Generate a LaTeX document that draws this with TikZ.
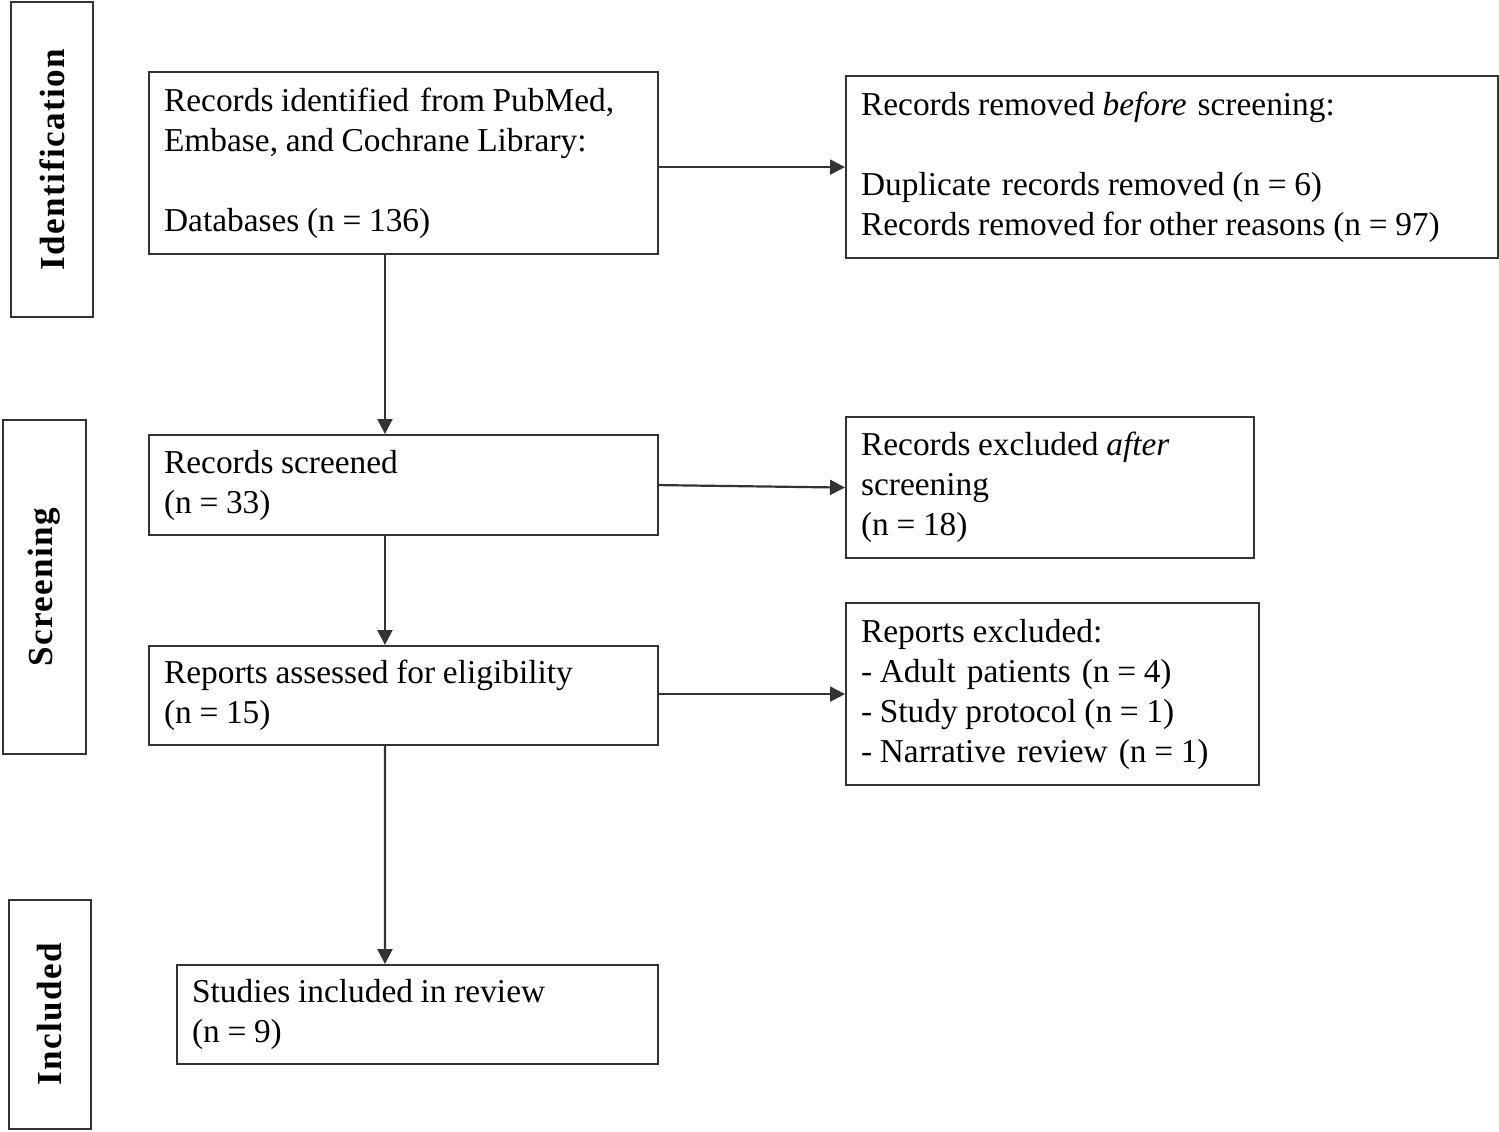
\documentclass[tikz,border=0pt]{standalone}
\usepackage{fontspec}
\setmainfont{Liberation Serif}
\usetikzlibrary{arrows.meta}
\newcommand\tightsp{\spaceskip=0.23em plus 0.02em minus 0.02em\relax}
\newcommand\dsp{\hspace{0.33em}}
\begin{document}
\begin{tikzpicture}[x=0.02cm,y=-0.02cm,
  box/.style={draw=black!80,line width=1.25pt,rectangle,anchor=north west,align=left,
    inner xsep=0.3cm,inner ysep=0pt,font=\fontsize{19}{22.8}\selectfont},
  side/.style={draw=black!80,line width=1.25pt,rectangle,inner sep=0pt,
    font=\fontsize{20}{24}\selectfont\bfseries\addfontfeatures{LetterSpace=4}},
  arr/.style={line width=1.25pt,draw=black!80,-{Triangle[length=0.3cm,width=0.3cm]}}]
\useasboundingbox (0,0) rectangle (1499,1132);
% side labels
\node[side,minimum width=6.3cm,minimum height=1.64cm,rotate=90] (sid) at (52,159.5) {Identification};
\node[side,minimum width=6.68cm,minimum height=1.66cm,rotate=90] (sscr) at (44.5,587) {Screening};
\node[side,minimum width=4.58cm,minimum height=1.64cm,rotate=90] (sinc) at (50,1014.5) {Included};
% boxes
\node[box,text width=9.58cm,minimum height=3.64cm] (b1) at (148,71)
  {\tightsp Records identified\dsp from PubMed,\\Embase, and Cochrane Library:\\[22.8pt]Databases (n = 136)};
\node[box,text width=12.44cm,minimum height=3.64cm] (b2) at (845,75)
  {\tightsp Records removed \textit{before}\dsp screening:\\[22.8pt]Duplicate\dsp records removed (n = 6)\\Records removed for other reasons (n = 97)};
\node[box,text width=9.58cm,minimum height=2.0cm] (b3) at (148,434)
  {\tightsp Records screened\\(n = 33)};
\node[box,text width=7.56cm,minimum height=2.82cm] (b4) at (845,416)
  {\tightsp Records excluded \textit{after}\\screening\\(n = 18)};
\node[box,text width=9.58cm,minimum height=1.98cm] (b5) at (148,645)
  {\tightsp Reports assessed for eligibility\\(n = 15)};
\node[box,text width=7.66cm,minimum height=3.64cm] (b6) at (845,602)
  {\tightsp Reports excluded:\\- Adult\dsp patients\dsp (n = 4)\\- Study protocol (n = 1)\\- Narrative\dsp review\dsp (n = 1)};
\node[box,text width=9.02cm,minimum height=1.98cm] (b7) at (176,964)
  {\tightsp Studies included in review\\(n = 9)};
% connectors
\draw[arr] ([xshift=4.74cm]b1.south west) -- ([xshift=4.74cm]b3.north west);
\draw[arr] ([xshift=4.74cm]b3.south west) -- ([xshift=4.74cm]b5.north west);
\draw[arr] ([xshift=4.74cm]b5.south west) -- ([xshift=4.18cm]b7.north west);
\draw[arr] (b1.east |- b2.west) -- (b2.west);
\draw[arr] (b3.east) -- (b4.west);
\draw[arr] (b5.east |- b6.west) -- (b6.west);
\end{tikzpicture}
\end{document}
